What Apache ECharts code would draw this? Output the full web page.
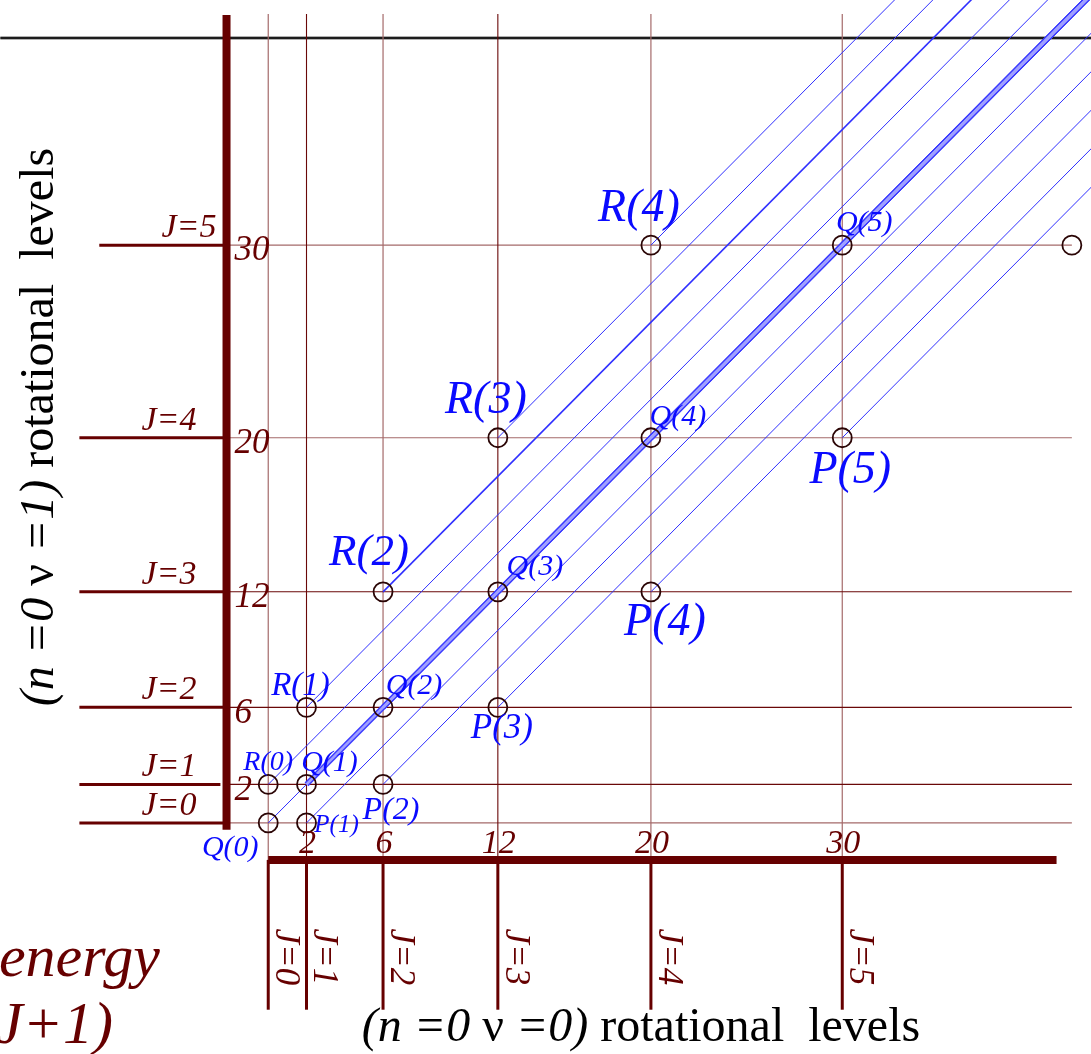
<!DOCTYPE html>
<html>
<head>
<meta charset="utf-8">
<title>Rotational levels</title>
<script src="https://cdn.jsdelivr.net/npm/echarts@6/dist/echarts.min.js"></script>
<style>
  html, body { margin: 0; padding: 0; background: #fff; }
  #main { width: 1091px; height: 1054px; }
</style>
</head>
<body>
<div id="main"></div>
<script>
// rotational levels, energy J(J+1) in units of B
var levelJ = [0, 1, 2, 3, 4, 5];
var levelEnergy = [0, 2, 6, 12, 20, 30];
var tickLabels = ['', '2', '6', '12', '20', '30'];

// transitions: name, lower level energy (x), upper level energy (y)
var branchNames = ['Q(0)', 'Q(1)', 'Q(2)', 'Q(3)', 'Q(4)', 'Q(5)',
                   'R(0)', 'R(1)', 'R(2)', 'R(3)', 'R(4)',
                   'P(1)', 'P(2)', 'P(3)', 'P(4)', 'P(5)'];
var lowerEnergy = [0, 2, 6, 12, 20, 30,
                   0, 2, 6, 12, 20,
                   2, 6, 12, 20, 30];
var upperEnergy = [0, 2, 6, 12, 20, 30,
                   2, 6, 12, 20, 30,
                   0, 2, 6, 12, 20];
// P(6), cut off at the right edge
var extraLower = [42];
var extraUpper = [30];

// ---- layout (pixels per unit, origin in pixels) ----
var PX = 19.26, ORIGIN_X = 270, ORIGIN_Y = 823;
var X_MIN = -14, X_MAX = 43, Y_MIN = -12, Y_MAX = 42.7;
var AXIS_LEFT_X = -2.18, AXIS_BOTTOM_Y = -1.92, GRID_END = 42;
var LEVEL_BOTTOM_END = -9.7, TOP_RULE_Y = 40.76, RAY = 60;
var levelLineStart = [-9.87, -9.87, -9.87, -9.87, -9.87, -8.83];
var levelLineEnd = [-2.18, -2.5, -2.18, -2.18, -2.18, -2.18];
var hDark = [false, true, true, true, false, false];
var vDark = [false, true, false, true, false, false];

var DARK = '#660000';
var GRID_DARK = '#6a0808';
var GRID_LIGHT = '#a46a6a';
var BLUE = '#0a0aff';
var RAY_BLUE = '#3030ff';
var SERIF = "'Liberation Serif', 'DejaVu Serif', serif";

// label offset x, offset y, font size
var labelStyle = {
	'Q(0)': [-38, 25, 30], 'Q(1)': [23, -21, 30], 'Q(2)': [31, -21, 30],
	'Q(3)': [37, -25, 30], 'Q(4)': [27, -21, 30], 'Q(5)': [22, -22, 30],
	'R(0)': [0, -22, 28], 'R(1)': [-6, -21, 33], 'R(2)': [-14, -39, 45],
	'R(3)': [-12, -37, 46], 'R(4)': [-12, -36, 46],
	'P(1)': [30, 3, 25], 'P(2)': [8, 26, 32], 'P(3)': [4, 21, 35],
	'P(4)': [14, 31, 46], 'P(5)': [8, 33, 46]
};

function seg(x1, y1, x2, y2) {
	return [[x1, y1], [x2, y2]];
}

// one plain line series per segment
function segSeries(list, color, width, z) {
	var out = [];
	for (var i = 0; i < list.length; i++) {
		out.push({
			type: 'line',
			silent: true,
			symbol: 'none',
			z: z,
			clip: true,
			lineStyle: { color: color, width: width, opacity: 1 },
			data: list[i]
		});
	}
	return out;
}

function textSeries(items, z) {
	return {
		type: 'scatter',
		silent: true,
		symbolSize: 1,
		itemStyle: { color: 'rgba(0,0,0,0)', opacity: 1 },
		z: z,
		data: items
	};
}

function darkText(extra) {
	return Object.assign({ show: true, position: 'inside', fontFamily: SERIF,
		fontStyle: 'italic', color: DARK, opacity: 1 }, extra);
}

var hThinDark = [], hThinLight = [], vThinDark = [], vThinLight = [], hLevel = [], vLevel = [];
for (var i = 0; i < levelEnergy.length; i++) {
	var e = levelEnergy[i];
	(hDark[i] ? hThinDark : hThinLight).push(seg(AXIS_LEFT_X, e, GRID_END, e));
	(vDark[i] ? vThinDark : vThinLight).push(seg(e, AXIS_BOTTOM_Y, e, GRID_END));
	hLevel.push(seg(levelLineStart[i], e, levelLineEnd[i], e));
	vLevel.push(seg(e, AXIS_BOTTOM_Y, e, LEVEL_BOTTOM_END));
}

var rays = [], raysBold = [], qBand = [];
for (var k = 0; k < branchNames.length; k++) {
	var x = lowerEnergy[k], y = upperEnergy[k];
	if (branchNames[k] === 'R(2)') {
		raysBold.push(seg(x, y, x + RAY, y + RAY));
	} else {
		rays.push(seg(x, y, x + RAY, y + RAY));
	}
	if (branchNames[k].charAt(0) === 'Q' && x >= 2) {
		qBand.push(seg(x, y, x + RAY, y + RAY));
	}
}

var circles = [];
for (var k = 0; k < branchNames.length; k++) {
	var st = labelStyle[branchNames[k]];
	circles.push({
		value: [lowerEnergy[k], upperEnergy[k]],
		name: branchNames[k],
		label: {
			show: true,
			position: 'inside',
			formatter: branchNames[k],
			offset: [st[0], st[1]],
			color: BLUE,
			opacity: 1,
			fontFamily: SERIF,
			fontStyle: 'italic',
			fontSize: st[2]
		}
	});
}
for (var m = 0; m < extraLower.length; m++) {
	circles.push({ value: [extraLower[m], extraUpper[m]], name: '' });
}

var leftTicks = [], bottomTicks = [], leftJ = [], bottomJ = [];
for (var i = 0; i < levelEnergy.length; i++) {
	var e = levelEnergy[i];
	if (tickLabels[i]) {
		leftTicks.push({
			value: [AXIS_LEFT_X, e],
			label: darkText({ formatter: tickLabels[i], align: 'left', verticalAlign: 'middle',
				offset: [8, 6], fontSize: 35 })
		});
		bottomTicks.push({
			value: [e, 0],
			label: darkText({ formatter: tickLabels[i], align: 'center', verticalAlign: 'middle',
				offset: [1, 21], fontSize: 34 })
		});
	}
	leftJ.push({
		value: [AXIS_LEFT_X, e],
		label: darkText({ formatter: 'J=' + levelJ[i], align: 'right', verticalAlign: 'middle',
			offset: [i === 5 ? -10 : -30, -17], fontSize: 34 })
	});
	// offset is in the rotated frame: [down, left]
	bottomJ.push({
		value: [e, 0],
		label: darkText({ formatter: 'J=' + levelJ[i], rotate: -90, align: 'center',
			verticalAlign: 'middle', offset: [134, -17], fontSize: 35 })
	});
}

var titleRich = {
	i: { fontFamily: SERIF, fontStyle: 'italic', fontSize: 48, fill: '#000' },
	r: { fontFamily: SERIF, fontSize: 48, fill: '#000' }
};

var series = [].concat(
	segSeries([seg(X_MIN, TOP_RULE_Y, X_MAX, TOP_RULE_Y)], '#b0b0b0', 4, 1),
	segSeries([seg(X_MIN, TOP_RULE_Y, X_MAX, TOP_RULE_Y)], '#1c1c1c', 2, 2),
	segSeries(hThinLight, GRID_LIGHT, 1.2, 3),
	segSeries(vThinLight, GRID_LIGHT, 1.2, 3),
	segSeries(hThinDark, GRID_DARK, 1.1, 3),
	segSeries(vThinDark, GRID_DARK, 1.1, 3),
	segSeries(hLevel, DARK, 3, 4),
	segSeries(vLevel, DARK, 3, 4),
	segSeries(rays, RAY_BLUE, 1, 5),
	segSeries(raysBold, RAY_BLUE, 1.6, 5),
	segSeries(qBand, '#3c3cff', 5.5, 6),
	segSeries(qBand, '#a0a0ff', 2.6, 7),
	segSeries([seg(AXIS_LEFT_X, -0.36, AXIS_LEFT_X, 41.95)], DARK, 8, 8),
	segSeries([seg(0, AXIS_BOTTOM_Y, 41.2, AXIS_BOTTOM_Y)], DARK, 8, 8),
	[{
		type: 'scatter',
		silent: true,
		symbol: 'circle',
		symbolSize: 19,
		itemStyle: { color: 'rgba(0,0,0,0)', borderColor: '#2a0505', borderWidth: 1.8, opacity: 1 },
		z: 9,
		data: circles
	},
	textSeries(leftTicks, 10),
	textSeries(bottomTicks, 10),
	textSeries(leftJ, 10),
	textSeries(bottomJ, 10)]
);

var chart = echarts.init(document.getElementById('main'));
var option = {
	animation: false,
	backgroundColor: '#ffffff',
	grid: {
		left: ORIGIN_X + X_MIN * PX,
		top: ORIGIN_Y - Y_MAX * PX,
		width: (X_MAX - X_MIN) * PX,
		height: (Y_MAX - Y_MIN) * PX
	},
	xAxis: { type: 'value', min: X_MIN, max: X_MAX, show: false, splitLine: { show: false } },
	yAxis: { type: 'value', min: Y_MIN, max: Y_MAX, show: false, splitLine: { show: false } },
	graphic: [
		{
			type: 'text', x: 40, y: 427, rotation: Math.PI / 2,
			style: {
				text: '{i|(n =0 }{r|ν}{i| =1)}{r| rotational  levels}',
				align: 'center', verticalAlign: 'middle', rich: titleRich
			}
		},
		{
			type: 'text', x: 641, y: 1028,
			style: {
				text: '{i|(n =0 }{r|ν}{i| =0)}{r| rotational  levels}',
				align: 'center', verticalAlign: 'middle', rich: titleRich
			}
		},
		{
			type: 'text', x: 160, y: 930,
			style: { text: 'energy', align: 'right', verticalAlign: 'alphabetic',
				font: 'italic 60px ' + SERIF, fill: DARK }
		},
		{
			type: 'text', x: 113, y: 997,
			style: { text: 'J(J+1)', align: 'right', verticalAlign: 'alphabetic',
				font: 'italic 60px ' + SERIF, fill: DARK }
		}
	],
	series: series
};
chart.setOption(option);
</script>
</body>
</html>
